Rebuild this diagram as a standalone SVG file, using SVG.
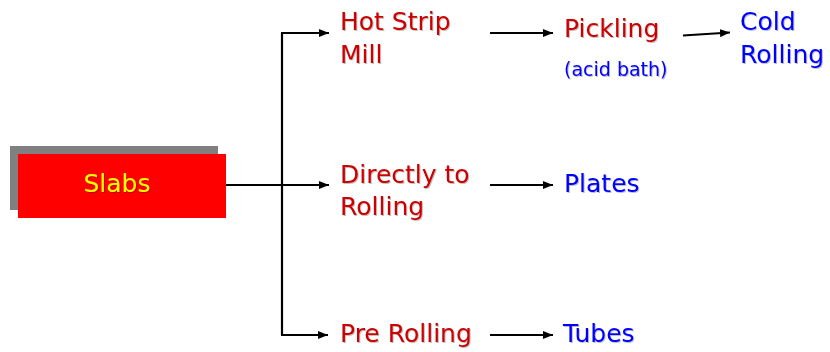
<svg xmlns="http://www.w3.org/2000/svg" width="830" height="352" viewBox="0 0 830 352">
  <defs>
    <marker id="arrow" viewBox="0 0 10 8" refX="10" refY="4" markerWidth="10" markerHeight="8" markerUnits="userSpaceOnUse" orient="auto">
      <path d="M0,0 L10,4 L0,8 z" fill="#000"/>
    </marker>
    <filter id="shadow" x="-5%" y="-5%" width="110%" height="120%">
      <feDropShadow dx="1" dy="1" stdDeviation="0.4" flood-color="#000" flood-opacity="0.25"/>
    </filter>
  </defs>
  <style>
    text { font-family: "DejaVu Sans", Verdana, sans-serif; font-size: 25px; filter: url(#shadow); }
    .step { fill: #CC0000; }
    .product { fill: #0000FF; }
    .note { fill: #0000FF; font-size: 19px; }
    .slab { fill: #FFFF00; }
    .wire { fill: none; stroke: #000; stroke-width: 2.2; }
    .arrow { marker-end: url(#arrow); }
  </style>
  <rect width="830" height="352" fill="#fff"/>

  <g id="slabs">
    <rect x="10" y="146" width="208" height="64" fill="#808080"/>
    <rect x="18" y="154" width="208" height="64" fill="#FF0000"/>
    <text class="slab" x="117" y="192" text-anchor="middle">Slabs</text>
  </g>

  <g id="connectors">
    <path class="wire" d="M282,335 L282,33"/>
    <path class="wire arrow" d="M281,33 L329,33"/>
    <path class="wire arrow" d="M226,185 L329,185"/>
    <path class="wire arrow" d="M281,335 L328,335"/>
    <path class="wire arrow" d="M490,33 L553,33"/>
    <path class="wire arrow" d="M490,185 L553,185"/>
    <path class="wire arrow" d="M490,335 L553,335"/>
    <path class="wire arrow" d="M683,35.5 L730,32.5"/>
  </g>

  <g id="hot-strip-mill">
    <text class="step" x="340" y="30">Hot Strip</text>
    <text class="step" x="340" y="63">Mill</text>
  </g>

  <g id="directly-to-rolling">
    <text class="step" x="340" y="183">Directly to</text>
    <text class="step" x="340" y="215">Rolling</text>
  </g>

  <g id="pre-rolling">
    <text class="step" x="340" y="342">Pre Rolling</text>
  </g>

  <g id="pickling">
    <text class="step" x="564" y="37">Pickling</text>
    <text class="note" x="564" y="76">(acid bath)</text>
  </g>

  <g id="cold-rolling">
    <text class="product" x="740" y="30">Cold</text>
    <text class="product" x="740" y="63">Rolling</text>
  </g>

  <g id="plates">
    <text class="product" x="564" y="192">Plates</text>
  </g>

  <g id="tubes">
    <text class="product" x="563" y="342">Tubes</text>
  </g>
</svg>
